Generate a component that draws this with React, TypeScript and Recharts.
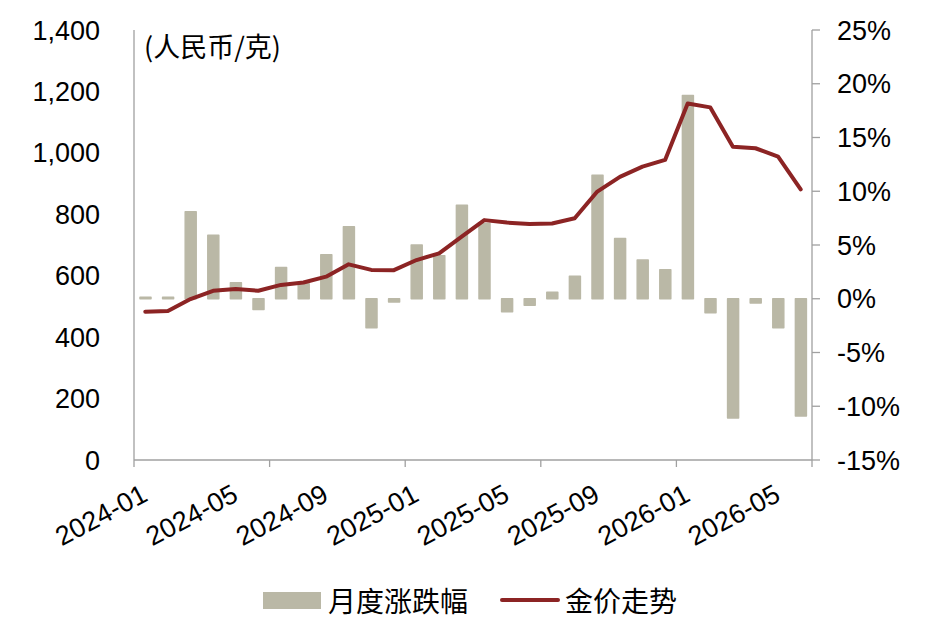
import React from 'react';
import { ComposedChart, Bar, Line, XAxis, YAxis, Legend } from 'recharts';

// monthly categories, 2024-01 .. 2026-06
const months = [
  '2024-01', '2024-02', '2024-03', '2024-04', '2024-05', '2024-06',
  '2024-07', '2024-08', '2024-09', '2024-10', '2024-11', '2024-12',
  '2025-01', '2025-02', '2025-03', '2025-04', '2025-05', '2025-06',
  '2025-07', '2025-08', '2025-09', '2025-10', '2025-11', '2025-12',
  '2026-01', '2026-02', '2026-03', '2026-04', '2026-05', '2026-06',
];

// gold price, 人民币/克 (left axis)
const price = [
  483, 485, 524, 551, 557, 551, 570, 578, 597, 637, 619, 618,
  651, 673, 727, 781, 773, 768, 770, 787, 874, 922, 955, 977,
  1161, 1148, 1020, 1015, 988, 881,
];

// monthly change, % (right axis)
const change = [
  0.15, 0.15, 8.1, 5.9, 1.5, -1.0, 2.9, 1.4, 4.1, 6.7, -2.7, -0.3,
  5.0, 4.0, 8.7, 7.0, -1.2, -0.6, 0.6, 2.1, 11.5, 5.6, 3.6, 2.7,
  18.9, -1.3, -11.1, -0.4, -2.7, -10.9,
];

const leftTicks = [0, 200, 400, 600, 800, 1000, 1200, 1400];
const rightTicks = [-15, -10, -5, 0, 5, 10, 15, 20, 25];

const LABEL_EVERY = 4;
const MARK_EVERY = 6;

const W = 927;
const H = 630;
const LEFT_W = 134;
const RIGHT_W = 115;
const BAND = (W - LEFT_W - RIGHT_W) / months.length;

const BAR_COLOR = '#BAB8A6';
const LINE_COLOR = '#8C2424';
const AXIS_COLOR = '#A0A0A0';
const NUM_FONT = '"Liberation Sans", Arial, sans-serif';
const CJK_FONT = '"Noto Sans CJK SC", "Noto Sans", sans-serif';

const data = months.map((m, i) => ({ month: m, price: price[i], change: change[i] }));

function MonthTick(props: any) {
  const { x, y, index, payload } = props;
  const last = index === months.length - 1;
  const ax = x + 4;
  const ay = y + 40;
  return (
    <g>
      {index % MARK_EVERY === 0 && (
        <line x1={x - BAND / 2} x2={x - BAND / 2} y1={y} y2={y + 7} stroke={AXIS_COLOR} strokeWidth={1.3} />
      )}
      {last && (
        <line x1={x + BAND / 2} x2={x + BAND / 2} y1={y} y2={y + 7} stroke={AXIS_COLOR} strokeWidth={1.3} />
      )}
      {index % LABEL_EVERY === 0 && (
        <text
          x={ax}
          y={ay}
          textAnchor="end"
          transform={`rotate(-28, ${ax}, ${ay})`}
          fontSize={27}
          fontFamily={NUM_FONT}
          fill="#000"
        >
          {payload.value}
        </text>
      )}
    </g>
  );
}

function LegendContent() {
  return (
    <div style={styles.legend}>
      <span style={styles.barSwatch} />
      <span style={{ ...styles.legendText, marginLeft: 7 }}>月度涨跌幅</span>
      <span style={styles.lineSwatch} />
      <span style={{ ...styles.legendText, marginLeft: 5 }}>金价走势</span>
    </div>
  );
}

export default function App() {
  return (
    <div style={styles.page}>
      <ComposedChart width={W} height={H} data={data} margin={{ top: 30, right: 0, bottom: 10, left: 0 }}>
        <XAxis
          dataKey="month"
          interval={0}
          height={120}
          tickSize={0}
          tickMargin={0}
          tickLine={false}
          axisLine={{ stroke: AXIS_COLOR, strokeWidth: 1.3 }}
          tick={<MonthTick />}
        />
        <YAxis
          yAxisId="left"
          width={LEFT_W}
          domain={[0, 1400]}
          ticks={leftTicks}
          tickLine={false}
          tickSize={0}
          tickMargin={34}
          axisLine={{ stroke: AXIS_COLOR, strokeWidth: 1.3 }}
          tickFormatter={(v: number) => v.toLocaleString('en-US')}
          tick={{ fontSize: 27, fontFamily: NUM_FONT, fill: '#000' }}
        />
        <YAxis
          yAxisId="right"
          orientation="right"
          width={RIGHT_W}
          domain={[-15, 25]}
          ticks={rightTicks}
          tickSize={8}
          tickMargin={17}
          tickLine={{ stroke: AXIS_COLOR, strokeWidth: 1.3 }}
          axisLine={{ stroke: AXIS_COLOR, strokeWidth: 1.3 }}
          tickFormatter={(v: number) => `${v}%`}
          tick={{ fontSize: 27, fontFamily: NUM_FONT, fill: '#000', textAnchor: 'start' }}
        />
        <Legend verticalAlign="bottom" height={40} content={<LegendContent />} />
        <Bar
          yAxisId="right"
          dataKey="change"
          name="月度涨跌幅"
          fill={BAR_COLOR}
          stroke={BAR_COLOR}
          strokeWidth={1.5}
          strokeLinejoin="round"
          barSize={11}
          isAnimationActive={false}
        />
        <Line
          yAxisId="left"
          dataKey="price"
          name="金价走势"
          type="linear"
          stroke={LINE_COLOR}
          strokeWidth={4}
          strokeLinejoin="round"
          strokeLinecap="round"
          dot={false}
          activeDot={false}
          isAnimationActive={false}
        />
      </ComposedChart>
      <div style={styles.unit}>(人民币/克)</div>
    </div>
  );
}

const styles: Record<string, React.CSSProperties> = {
  page: {
    position: 'absolute',
    left: 0,
    top: 0,
    width: W,
    height: H,
    background: '#fff',
  },
  unit: {
    position: 'absolute',
    left: 144,
    top: 29,
    fontSize: 27,
    lineHeight: '34px',
    fontFamily: CJK_FONT,
    color: '#000',
  },
  legend: {
    display: 'flex',
    alignItems: 'center',
    height: 40,
    paddingLeft: 263,
    boxSizing: 'border-box',
  },
  barSwatch: {
    display: 'inline-block',
    width: 58,
    height: 17,
    background: BAR_COLOR,
  },
  lineSwatch: {
    display: 'inline-block',
    width: 60,
    height: 4,
    marginLeft: 32,
    borderRadius: 2,
    background: LINE_COLOR,
  },
  legendText: {
    fontSize: 28,
    lineHeight: '40px',
    fontFamily: CJK_FONT,
    color: '#000',
    whiteSpace: 'nowrap',
  },
};
